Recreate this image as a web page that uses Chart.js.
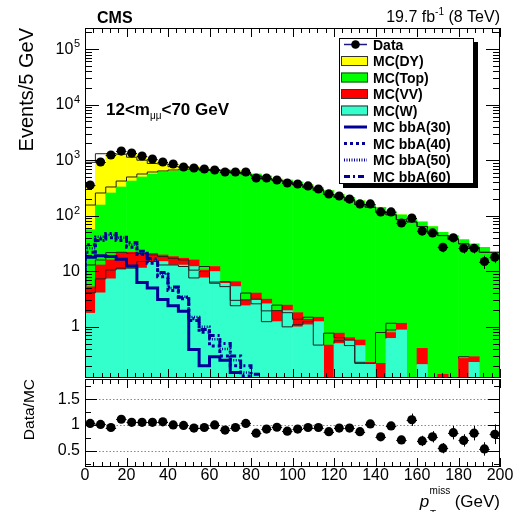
<!DOCTYPE html>
<html>
<head>
<meta charset="utf-8">
<title>pT miss</title>
<script src="https://cdn.jsdelivr.net/npm/chart.js@4.4.1/dist/chart.umd.min.js"></script>
<style>
html,body{margin:0;padding:0;background:#fff;}
#wrap{position:relative;width:516px;height:512px;overflow:hidden;background:#fff;}
#cTop{position:absolute;left:0;top:0;}
#cBot{position:absolute;left:0;top:378px;}
</style>
</head>
<body>
<div id="wrap">
<canvas id="cTop" width="516" height="378"></canvas>
<canvas id="cBot" width="516" height="134"></canvas>
</div>
<script>
// ---------------- data ----------------
const BIN = 5; // GeV per bin, bins 0..200 GeV
const xTickLabels = [0, 20, 40, 60, 80, 100, 120, 140, 160, 180, 200];
const ratioTickLabels = [0.5, 1, 1.5];
const logDecades = [1, 10, 100, 1000, 10000, 100000];

const dataVals = [358, 929, 1241, 1463, 1347, 1190, 1051, 929, 854, 754, 724, 695, 667, 614, 614, 614, 478, 478, 440, 389,
                  373, 344, 303, 247, 227, 200, 163, 163, 117, 117, 74, 91, 53, 49, 27, 40, 26, 26, 15, 18];
const dataErr  = [19, 30, 35, 38, 37, 34, 32, 30, 29, 27, 27, 26, 26, 25, 25, 25, 22, 22, 21, 20,
                  19, 19, 17, 16, 15, 14, 13, 13, 11, 11, 9, 10, 7, 7, 5, 6, 5, 5, 4, 4];

const mcW   = [1.76, 4.1, 7.3, 10.6, 11.4, 11.4, 15, 15, 13, 13, 12.2, 7.6, 9.9, 6.1, 5.3, 2.4, 3.06, 2.6, 1.24, 1.96,
               1.0, 1.09, 1.24, 0, 0.5, 0.56, 0.46, 0.22, 0, 0.62, 0.88, 0, 0.21, 0, 0, 0, 0, 0.23, 0, 0];
const mcVV  = [3.5, 8.9, 8.7, 11.1, 10.6, 9.6, 6.0, 4.7, 5.4, 4.2, 3.8, 2.9, 2.3, 0.3, 1.2, 0.6, 1.0, 0.55, 0.7, 0.5,
               0.8, 0.28, 0.25, 0.47, 0.27, 0.08, 0.12, 0.01, 0.22, 0.17, 0.28, 0, 0.2, 0, 0.14, 0, 0.27, 0.06, 0, 0];
const mcTop = [51, 143, 241, 308, 400, 478, 544, 594, 622, 650, 670, 680, 638, 662, 632, 585, 561, 514, 456, 436,
               403, 360, 318, 283, 241, 213, 186, 159, 142, 118, 103, 85, 77, 64, 50, 44, 37, 31, 27, 22];
const mcDY  = [291, 760, 1052, 988, 861, 634, 436, 259, 214, 98, 87, 43, 17, 12, 9, 6, 5, 4, 3, 2,
               2, 1.5, 1, 1, 0.8, 0.6, 0.5, 0.4, 0.3, 0.3, 0.2, 0.2, 0.1, 0.1, 0.1, 0, 0, 0, 0, 0];

const bbA30 = [5.3, 18, 19, 18.5, 16.5, 12.5, 6.3, 5.0, 3.1, 2.4, 1.9, 0.39, 0.2, 0.29, 0.25, 0.15, 0, 0, 0, 0,
               0, 0, 0, 0, 0, 0, 0, 0, 0, 0, 0, 0, 0, 0, 0, 0, 0, 0, 0, 0];
const bbA40 = [12, 30, 38, 40, 36, 27, 20, 14, 8, 4.5, 3.2, 1.3, 0.8, 0.45, 0.3, 0.2, 0.13, 0, 0, 0,
               0, 0, 0, 0, 0, 0, 0, 0, 0, 0, 0, 0, 0, 0, 0, 0, 0, 0, 0, 0];
const bbA50 = [11, 26, 42, 45, 40, 30, 21, 16, 9, 5, 3.5, 1.5, 1.0, 0.6, 0.4, 0.25, 0.15, 0, 0, 0,
               0, 0, 0, 0, 0, 0, 0, 0, 0, 0, 0, 0, 0, 0, 0, 0, 0, 0, 0, 0];
const bbA60 = [9, 22, 36, 48, 41, 33, 23, 17, 9.5, 5.2, 3.4, 1.4, 0.9, 0.7, 0.5, 0.3, 0.2, 0.14, 0, 0,
               0, 0, 0, 0, 0, 0, 0, 0, 0, 0, 0, 0, 0, 0, 0, 0, 0, 0, 0, 0];

const ratioVals = [1.03, 1.01, 0.95, 1.11, 1.05, 1.05, 1.05, 1.06, 1.00, 0.99, 0.94, 0.95, 1.00, 0.90, 0.95, 1.03, 0.84, 0.92, 0.955, 0.88,
                   0.92, 0.95, 0.95, 0.87, 0.94, 0.94, 0.87, 1.02, 0.77, 0.98, 0.71, 1.10, 0.69, 0.77, 0.55, 0.85, 0.70, 0.84, 0.535, 0.82];
const ratioErr  = [0.03, 0.02, 0.02, 0.02, 0.02, 0.02, 0.02, 0.02, 0.02, 0.02, 0.02, 0.02, 0.02, 0.02, 0.02, 0.02, 0.03, 0.03, 0.03, 0.03,
                   0.03, 0.03, 0.04, 0.04, 0.04, 0.04, 0.05, 0.05, 0.06, 0.06, 0.08, 0.12, 0.10, 0.11, 0.10, 0.13, 0.12, 0.14, 0.13, 0.19];

const legendLabels = ['Data', 'MC(DY)', 'MC(Top)', 'MC(VV)', 'MC(W)', 'MC bbA(30)', 'MC bbA(40)', 'MC bbA(50)', 'MC bbA(60)'];

// ---------------- styles ----------------
const FONT = '"Liberation Sans", Arial, Helvetica, sans-serif';
Chart.defaults.font.family = FONT;
Chart.defaults.color = '#000';
const COL = { dy: '#ffff00', top: '#00ff00', vv: '#ff0000', w: '#33ffcc', sig: '#000099', edge: '#222222' };
const DASH = { b30: [], b40: [3, 3], b50: [1, 1.5], b60: [6, 3, 2, 3] };

// ---------------- helpers ----------------
const centers = dataVals.map((_, i) => (i + 0.5) * BIN);
const pts = a => a.map((v, i) => ({ x: centers[i], y: v }));
const steps = a => a.map((v, i) => ({ x: i * BIN, y: v })).concat([{ x: a.length * BIN, y: a[a.length - 1] }]);
const cum = (...arrs) => arrs[0].map((_, i) => arrs.reduce((s, a) => s + a[i], 0));

const lvlW = cum(mcW), lvlVV = cum(mcW, mcVV), lvlTop = cum(mcW, mcVV, mcTop), lvlAll = cum(mcW, mcVV, mcTop, mcDY);

const stepDs = (label, arr, color, width, dash, stack) => ({
  type: 'line', label, data: steps(arr), borderColor: color, borderWidth: width, borderDash: dash,
  stepped: 'after', pointRadius: 0, fill: false, stack, borderCapStyle: 'butt', tension: 0
});
const barDs = (label, arr, color) => ({
  type: 'bar', label, data: pts(arr), backgroundColor: color, borderWidth: 0, stack: 'mc',
  barPercentage: 1, categoryPercentage: 1
});

function f(size, weight, style) { return (style || '') + ' ' + (weight || 'normal') + ' ' + size + 'px ' + FONT; }

function frameAndTicks(ctx, ca, xs, ys, o) {
  ctx.save();
  ctx.strokeStyle = '#000'; ctx.lineWidth = 1;
  ctx.beginPath();
  for (let v = 0; v <= 200; v += 4) {
    const x = Math.round(xs.getPixelForValue(v)) + 0.5;
    const L = v % 20 === 0 ? o.xMaj : o.xMin;
    ctx.moveTo(x, ca.bottom); ctx.lineTo(x, ca.bottom - L);
    ctx.moveTo(x, ca.top); ctx.lineTo(x, ca.top + L);
  }
  for (const t of o.yTicks) {
    const y = Math.round(ys.getPixelForValue(t[0])) + 0.5;
    const L = t[1] ? o.yMaj : o.yMin;
    ctx.moveTo(ca.left, y); ctx.lineTo(ca.left + L, y);
    ctx.moveTo(ca.right, y); ctx.lineTo(ca.right - L, y);
  }
  ctx.stroke();
  ctx.strokeRect(ca.left + 0.5, ca.top + 0.5, ca.right - ca.left - 1, ca.bottom - ca.top - 1);
  ctx.restore();
}

function errorBars(ctx, ca, xs, ys, vals, errs) {
  ctx.save();
  ctx.beginPath(); ctx.rect(ca.left, ca.top, ca.right - ca.left, ca.bottom - ca.top); ctx.clip();
  ctx.strokeStyle = '#000'; ctx.lineWidth = 1;
  ctx.beginPath();
  vals.forEach((v, i) => {
    const x = Math.round(xs.getPixelForValue(centers[i])) + 0.5;
    const y = ys.getPixelForValue(v);
    ctx.moveTo(xs.getPixelForValue(centers[i] - BIN / 2), Math.round(y) + 0.5);
    ctx.lineTo(xs.getPixelForValue(centers[i] + BIN / 2), Math.round(y) + 0.5);
    ctx.moveTo(x, ys.getPixelForValue(v - errs[i]));
    ctx.lineTo(x, ys.getPixelForValue(v + errs[i]));
  });
  ctx.stroke();
  ctx.restore();
}

// force the plot area to an exact rectangle (canvas-local coordinates)
function pinArea(chart, want) {
  for (let k = 0; k < 4; k++) {
    const ca = chart.chartArea, p = chart.options.layout.padding;
    const dT = ca.top - want.top, dB = want.bottom - ca.bottom, dL = ca.left - want.left, dR = want.right - ca.right;
    if (Math.abs(dT) < 0.5 && Math.abs(dB) < 0.5 && Math.abs(dL) < 0.5 && Math.abs(dR) < 0.5) break;
    p.top -= dT; p.bottom -= dB; p.left -= dL; p.right -= dR;
    chart.update();
  }
}

// ---------------- top panel ----------------
const logTicks = [];
for (let e = -1; e <= 5; e++) for (let m = 1; m <= 9; m++) {
  const v = m * Math.pow(10, e);
  if (v >= 0.12 && v <= 2.4e5) logTicks.push([v, m === 1]);
}

const topPlugin = {
  id: 'topDeco',
  afterDatasetsDraw(chart) {
    const { ctx, chartArea: ca, scales: { x, y } } = chart;
    errorBars(ctx, ca, x, y, dataVals, dataErr);
  },
  afterDraw(chart) {
    const { ctx, chartArea: ca, scales: { x, y } } = chart;
    frameAndTicks(ctx, ca, x, y, { xMaj: 9, xMin: 5, yMaj: 14, yMin: 7, yTicks: logTicks });
    ctx.save();
    ctx.fillStyle = '#000';
    // log tick labels
    logDecades.forEach(v => {
      const py = y.getPixelForValue(v);
      const e = Math.round(Math.log10(v));
      ctx.textBaseline = 'middle'; ctx.textAlign = 'right';
      if (e <= 1) {
        ctx.font = f(16); ctx.fillText(String(v), 80, py);
      } else {
        ctx.font = f(11); const sw = ctx.measureText(String(e)).width;
        ctx.textBaseline = 'alphabetic';
        ctx.fillText(String(e), 80, py - 2);
        ctx.font = f(16); ctx.textBaseline = 'middle';
        ctx.fillText('10', 80 - sw - 0.5, py);
      }
    });
    // header texts
    ctx.textBaseline = 'alphabetic'; ctx.textAlign = 'left';
    ctx.font = f(16, 'bold'); ctx.fillText('CMS', 97, 23);
    // lumi, right aligned at 500
    ctx.font = f(16); const a1 = '19.7 fb', a3 = ' (8 TeV)';
    const w1 = ctx.measureText(a1).width, w3 = ctx.measureText(a3).width;
    ctx.font = f(10); const w2 = ctx.measureText('-1').width;
    let x0 = 500 - (w1 + w2 + w3);
    ctx.font = f(16); ctx.fillText(a1, x0, 22);
    ctx.font = f(10); ctx.fillText('-1', x0 + w1, 15);
    ctx.font = f(16); ctx.fillText(a3, x0 + w1 + w2, 22);
    // region label
    let rx = 106;
    ctx.font = f(17, 'bold'); ctx.fillText('12<m', rx, 115); rx += ctx.measureText('12<m').width;
    ctx.font = f(10); ctx.fillText('μμ', rx, 119); rx += ctx.measureText('μμ').width;
    ctx.font = f(17, 'bold'); ctx.fillText('<70 GeV', rx, 115);
    // legend
    const L0 = 339, T0 = 38, R0 = 474, B0 = 184;
    ctx.fillStyle = '#000';
    ctx.fillRect(L0 + 4, B0, R0 - L0, 4);
    ctx.fillRect(R0, T0 + 4, 4, B0 - T0);
    ctx.fillStyle = '#fff'; ctx.fillRect(L0, T0, R0 - L0, B0 - T0);
    ctx.strokeStyle = '#000'; ctx.lineWidth = 1; ctx.strokeRect(L0 + 0.5, T0 + 0.5, R0 - L0 - 1, B0 - T0 - 1);
    const rowsY = [44.5, 61, 77.5, 94, 110.5, 127, 143.5, 160, 176.5];
    const kinds = [['m'], ['b', COL.dy], ['b', COL.top], ['b', COL.vv], ['b', COL.w],
                   ['l', DASH.b30], ['l', DASH.b40], ['l', DASH.b50], ['l', DASH.b60]];
    kinds.forEach((k, i) => {
      const ry = rowsY[i];
      if (k[0] === 'm') {
        ctx.strokeStyle = '#1a1a80'; ctx.lineWidth = 1.5; ctx.setLineDash([]);
        ctx.beginPath(); ctx.moveTo(344, ry); ctx.lineTo(367, ry); ctx.stroke();
        ctx.fillStyle = '#000'; ctx.beginPath(); ctx.arc(355.5, ry, 4.3, 0, Math.PI * 2); ctx.fill();
      } else if (k[0] === 'b') {
        ctx.fillStyle = k[1]; ctx.fillRect(341, ry - 5, 27, 10);
        ctx.strokeStyle = '#333'; ctx.lineWidth = 1; ctx.setLineDash([]);
        ctx.strokeRect(341.5, ry - 4.5, 26, 9);
      } else {
        ctx.strokeStyle = COL.sig; ctx.lineWidth = 3; ctx.setLineDash(k[1]); ctx.lineCap = 'butt';
        ctx.beginPath(); ctx.moveTo(344, ry); ctx.lineTo(367, ry); ctx.stroke();
        ctx.setLineDash([]);
      }
      ctx.fillStyle = '#000'; ctx.font = f(14, 'bold'); ctx.textAlign = 'left'; ctx.textBaseline = 'alphabetic';
      ctx.fillText(legendLabels[i], 373, ry + 5);
    });
    ctx.restore();
  }
};

const topChart = new Chart(document.getElementById('cTop'), {
  type: 'bar',
  data: {
    datasets: [
      { type: 'line', label: legendLabels[0], data: pts(dataVals), showLine: false, pointRadius: 4.6,
        pointBackgroundColor: '#000', pointBorderColor: '#000', pointBorderWidth: 0, stack: 'data' },
      stepDs(legendLabels[5], bbA30, COL.sig, 3, DASH.b30, 's30'),
      stepDs(legendLabels[6], bbA40, COL.sig, 3, DASH.b40, 's40'),
      stepDs(legendLabels[7], bbA50, COL.sig, 2.5, DASH.b50, 's50'),
      stepDs(legendLabels[8], bbA60, COL.sig, 3, DASH.b60, 's60'),
      stepDs('edge all', lvlAll, COL.edge, 1, [], 'e4'),
      stepDs('edge top', lvlTop, COL.edge, 1, [], 'e3'),
      stepDs('edge vv', lvlVV, COL.edge, 1, [], 'e2'),
      stepDs('edge w', lvlW, COL.edge, 1, [], 'e1'),
      barDs(legendLabels[4], mcW, COL.w),
      barDs(legendLabels[3], mcVV, COL.vv),
      barDs(legendLabels[2], mcTop, COL.top),
      barDs(legendLabels[1], mcDY, COL.dy)
    ]
  },
  options: {
    responsive: false, animation: false, devicePixelRatio: 1, events: [],
    layout: { autoPadding: false, padding: { top: 28, right: 16, bottom: 0, left: 0 } },
    plugins: { legend: { display: false }, tooltip: { enabled: false } },
    scales: {
      x: { type: 'linear', min: 0, max: 200, offset: false, display: false },
      y: {
        type: 'logarithmic', min: 0.12, max: 2.4e5, stacked: true,
        afterFit: s => { s.width = 85; },
        grid: { display: false, drawTicks: false }, border: { display: false },
        ticks: { display: false },
        title: { display: true, text: 'Events/5 GeV', align: 'end', color: '#000',
                 font: { size: 20, family: FONT }, padding: { top: 15, bottom: 0 } }
      }
    }
  },
  plugins: [topPlugin]
});
pinArea(topChart, { top: 28, bottom: 378, left: 85, right: 500 });

// ---------------- ratio panel ----------------
const ratioTicks = [[0.25, false], [0.5, true], [0.75, false], [1, true], [1.25, false], [1.5, true], [1.75, false]];
const botPlugin = {
  id: 'botDeco',
  beforeDatasetsDraw(chart) {
    const { ctx, chartArea: ca, scales: { y } } = chart;
    ctx.save();
    ctx.strokeStyle = '#888'; ctx.lineWidth = 1; ctx.setLineDash([1.5, 2]);
    ctx.beginPath();
    ratioTickLabels.forEach(v => {
      const py = Math.round(y.getPixelForValue(v)) + 0.5;
      ctx.moveTo(ca.left, py); ctx.lineTo(ca.right, py);
    });
    ctx.stroke();
    ctx.restore();
  },
  afterDatasetsDraw(chart) {
    const { ctx, chartArea: ca, scales: { x, y } } = chart;
    errorBars(ctx, ca, x, y, ratioVals, ratioErr);
  },
  afterDraw(chart) {
    const { ctx, chartArea: ca, scales: { x, y } } = chart;
    frameAndTicks(ctx, ca, x, y, { xMaj: 9, xMin: 5, yMaj: 12, yMin: 6, yTicks: ratioTicks });
    ctx.save();
    ctx.fillStyle = '#000';
    // ratio y tick labels
    ctx.font = f(16); ctx.textAlign = 'right'; ctx.textBaseline = 'middle';
    ratioTickLabels.forEach(v => ctx.fillText(String(v), 80, y.getPixelForValue(v)));
    // x tick labels
    ctx.textAlign = 'center'; ctx.textBaseline = 'top';
    xTickLabels.forEach(v => ctx.fillText(String(v), x.getPixelForValue(v), ca.bottom + 1));
    // x title: p_T^miss (GeV)
    ctx.textBaseline = 'alphabetic'; ctx.textAlign = 'left';
    ctx.font = f(17); const gW = ctx.measureText('(GeV)').width;
    ctx.font = f(10); const mW = ctx.measureText('miss').width;
    ctx.font = f(17, 'normal', 'italic'); const pW = ctx.measureText('p').width;
    const xG = 500 - gW, xM = xG - 4.5 - mW, xP = xM - pW - 0.5;
    ctx.font = f(17, 'normal', 'italic'); ctx.fillText('p', xP, 129);
    ctx.font = f(10); ctx.fillText('miss', xM, 116);
    ctx.fillText('T', xM + 0.5, 140);
    ctx.font = f(17); ctx.fillText('(GeV)', xG, 129);
    ctx.restore();
  }
};

const botChart = new Chart(document.getElementById('cBot'), {
  type: 'line',
  data: {
    datasets: [
      { label: 'Data/MC', data: pts(ratioVals), showLine: false, pointRadius: 4.6,
        pointBackgroundColor: '#000', pointBorderColor: '#000', pointBorderWidth: 0 }
    ]
  },
  options: {
    responsive: false, animation: false, devicePixelRatio: 1, events: [],
    layout: { autoPadding: false, padding: { top: 1, right: 16, bottom: 0, left: 0 } },
    plugins: { legend: { display: false }, tooltip: { enabled: false } },
    scales: {
      x: {
        type: 'linear', min: 0, max: 200, offset: false,
        afterFit: s => { s.height = 45; },
        afterBuildTicks: s => { s.ticks = xTickLabels.map(v => ({ value: v })); },
        grid: { display: false, drawTicks: false }, border: { display: false },
        ticks: { display: false }
      },
      y: {
        type: 'linear', min: 0.185, max: 1.89,
        afterFit: s => { s.width = 85; },
        afterBuildTicks: s => { s.ticks = ratioTickLabels.map(v => ({ value: v })); },
        grid: { display: false, drawTicks: false }, border: { display: false },
        ticks: { display: false },
        title: { display: true, text: 'Data/MC', align: 'end', color: '#000',
                 font: { size: 15.5, family: FONT }, padding: { top: 20, bottom: 0 } }
      }
    }
  },
  plugins: [botPlugin]
});
pinArea(botChart, { top: 1, bottom: 89, left: 85, right: 500 });
</script>
</body>
</html>
